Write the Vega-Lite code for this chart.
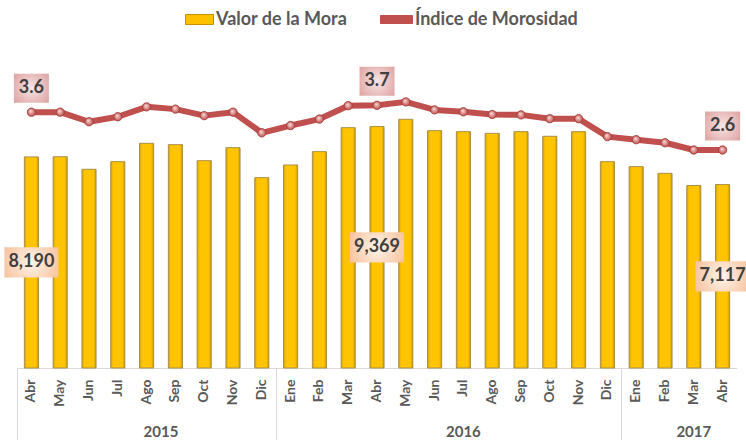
{
  "$schema": "https://vega.github.io/schema/vega-lite/v6.json",
  "width": 720,
  "height": 308,
  "autosize": {"type": "none"},
  "padding": {"left": 17, "top": 60, "right": 9, "bottom": 72},
  "background": "white",
  "config": {"view": {"stroke": null}, "font": "Lato"},
  "data": {"values": [
    {"key": "Abr-2015", "mora": 8190, "indice": 3.56},
    {"key": "May-2015", "mora": 8195, "indice": 3.56},
    {"key": "Jun-2015", "mora": 7710, "indice": 3.31},
    {"key": "Jul-2015", "mora": 8005, "indice": 3.44},
    {"key": "Ago-2015", "mora": 8718, "indice": 3.70},
    {"key": "Sep-2015", "mora": 8665, "indice": 3.64},
    {"key": "Oct-2015", "mora": 8044, "indice": 3.47},
    {"key": "Nov-2015", "mora": 8549, "indice": 3.56},
    {"key": "Dic-2015", "mora": 7385, "indice": 3.02},
    {"key": "Ene-2016", "mora": 7877, "indice": 3.21},
    {"key": "Feb-2016", "mora": 8394, "indice": 3.38},
    {"key": "Mar-2016", "mora": 9325, "indice": 3.73},
    {"key": "Abr-2016", "mora": 9369, "indice": 3.74},
    {"key": "May-2016", "mora": 9650, "indice": 3.83},
    {"key": "Jun-2016", "mora": 9208, "indice": 3.62},
    {"key": "Jul-2016", "mora": 9170, "indice": 3.57},
    {"key": "Ago-2016", "mora": 9105, "indice": 3.50},
    {"key": "Sep-2016", "mora": 9170, "indice": 3.49},
    {"key": "Oct-2016", "mora": 8990, "indice": 3.39},
    {"key": "Nov-2016", "mora": 9170, "indice": 3.39},
    {"key": "Dic-2016", "mora": 8005, "indice": 2.92},
    {"key": "Ene-2017", "mora": 7812, "indice": 2.84},
    {"key": "Feb-2017", "mora": 7553, "indice": 2.76},
    {"key": "Mar-2017", "mora": 7080, "indice": 2.57},
    {"key": "Abr-2017", "mora": 7117, "indice": 2.57}
  ]},
  "resolve": {"scale": {"y": "independent"}, "axis": {"x": "independent"}},
  "layer": [
    {
      "transform": [{"filter": "datum.mora < 0"}],
      "mark": {"type": "bar"},
      "encoding": {
        "x": {"field": "key", "type": "nominal", "sort": null, "axis": null},
        "y": {"field": "mora", "type": "quantitative", "scale": {"domain": [0, 11950], "nice": false}, "axis": null},
        "fill": {
          "datum": "Valor de la Mora",
          "scale": {"range": ["#FFC000"]},
          "legend": {
            "orient": "none", "legendX": 168, "legendY": -55, "title": null,
            "symbolType": "M-1,-0.36 h2 v0.72 h-2 Z", "symbolSize": 784,
            "symbolStrokeColor": "#BF9000", "symbolStrokeWidth": 1,
            "labelFont": "Lato", "labelFontSize": 18, "labelFontWeight": "bold",
            "labelColor": "#595959", "labelOffset": 2, "labelLimit": 400
          }
        }
      }
    },
    {
      "mark": {
        "type": "bar",
        "width": {"band": 0.49},
        "stroke": "#A89048",
        "strokeWidth": 1,
        "fill": {
          "gradient": "linear", "x1": 0, "y1": 0, "x2": 1, "y2": 0,
          "stops": [
            {"offset": 0, "color": "#D4A200"},
            {"offset": 0.18, "color": "#FFC400"},
            {"offset": 0.82, "color": "#FFC400"},
            {"offset": 1, "color": "#C89800"}
          ]
        }
      },
      "encoding": {
        "x": {
          "field": "key", "type": "nominal", "sort": null,
          "scale": {"paddingInner": 0, "paddingOuter": 0},
          "axis": {
            "orient": "bottom", "title": null,
            "labelExpr": "split(datum.value, '-')[0]",
            "labelAngle": -90, "labelPadding": 11,
            "labelFont": "Lato", "labelFontSize": 14, "labelFontWeight": "bold",
            "labelColor": "#595959",
            "ticks": false, "grid": false,
            "domainColor": "#D9D9D9", "domainWidth": 1
          }
        },
        "y": {"field": "mora", "type": "quantitative", "scale": {"domain": [0, 11950], "nice": false}, "axis": null}
      }
    },
    {
      "transform": [{"filter": "indexof(['Abr-2015','Abr-2016','Abr-2017'], datum.key) >= 0"}],
      "mark": {
        "type": "point", "filled": true, "opacity": 1,
        "shape": "M-1,-0.56 h2 v1.12 h-2 Z", "size": 2916,
        "fill": {
          "gradient": "radial", "x1": 0.5, "y1": 0.5, "r1": 0, "x2": 0.5, "y2": 0.5, "r2": 0.75,
          "stops": [
            {"offset": 0, "color": "#FFF4EA"},
            {"offset": 1, "color": "#F4B183"}
          ]
        }
      },
      "encoding": {
        "x": {"field": "key", "type": "nominal", "sort": null, "axis": null},
        "y": {"field": "mora", "type": "quantitative", "scale": {"domain": [0, 23900], "nice": false}, "axis": null}
      }
    },
    {
      "transform": [{"filter": "indexof(['Abr-2015','Abr-2016','Abr-2017'], datum.key) >= 0"}],
      "mark": {
        "type": "text", "font": "Lato", "fontSize": 18, "fontWeight": "bold",
        "color": "#404040", "baseline": "middle", "align": "center"
      },
      "encoding": {
        "x": {"field": "key", "type": "nominal", "sort": null, "axis": null},
        "y": {"field": "mora", "type": "quantitative", "scale": {"domain": [0, 23900], "nice": false}, "axis": null},
        "text": {"field": "mora", "type": "quantitative", "format": ","}
      }
    },
    {
      "transform": [{"filter": "datum.mora < 0"}],
      "mark": {"type": "line"},
      "encoding": {
        "x": {"field": "key", "type": "nominal", "sort": null, "axis": null},
        "y": {"field": "indice", "type": "quantitative", "scale": {"domain": [-3.137, 4.926], "nice": false, "zero": false}, "axis": null},
        "stroke": {
          "datum": "Índice de Morosidad",
          "scale": {"range": ["#C0504D"]},
          "legend": {
            "orient": "none", "legendX": 363, "legendY": -57, "title": null,
            "symbolType": "M-1,-0.25 h2 v0.5 h-2 Z", "symbolSize": 1024,
            "symbolFillColor": "#C0504D", "symbolStrokeColor": "#C0504D", "symbolStrokeWidth": 1,
            "labelFont": "Lato", "labelFontSize": 18, "labelFontWeight": "bold",
            "labelColor": "#595959", "labelOffset": 2, "labelLimit": 400
          }
        }
      }
    },
    {
      "mark": {
        "type": "line", "color": "#C0504D", "strokeWidth": 6,
        "strokeCap": "round", "strokeJoin": "round"
      },
      "encoding": {
        "x": {
          "field": "key", "type": "nominal", "sort": null,
          "axis": {
            "orient": "bottom", "title": null, "domain": false, "grid": false,
            "bandPosition": 0,
            "labelExpr": "datum.value == 'Ago-2015' ? '2015' : datum.value == 'Jul-2016' ? '2016' : datum.value == 'Mar-2017' ? '2017' : ''",
            "labelAngle": 0, "labelAlign": "center", "labelBaseline": "top",
            "labelOffset": {"condition": {"test": "datum.value == 'Ago-2015'", "value": 14.4}, "value": 0},
            "labelPadding": -16, "labelOverlap": false, "labelBound": false,
            "labelFont": "Lato", "labelFontSize": 15, "labelFontWeight": "bold",
            "labelColor": "#595959",
            "tickSize": 72, "tickColor": "#D9D9D9", "tickWidth": 1,
            "tickOpacity": {"condition": {"test": "indexof(['Abr-2015','Ene-2016','Ene-2017'], datum.value) >= 0", "value": 1}, "value": 0}
          }
        },
        "y": {"field": "indice", "type": "quantitative", "scale": {"domain": [-3.137, 4.926], "nice": false, "zero": false}, "axis": null}
      }
    },
    {
      "mark": {
        "type": "point", "filled": true, "opacity": 1, "size": 70,
        "stroke": "#9E3B38", "strokeWidth": 0.8,
        "fill": {
          "gradient": "radial", "x1": 0.4, "y1": 0.35, "r1": 0, "x2": 0.5, "y2": 0.5, "r2": 0.5,
          "stops": [
            {"offset": 0, "color": "#FBE3E2"},
            {"offset": 1, "color": "#C0504D"}
          ]
        }
      },
      "encoding": {
        "x": {"field": "key", "type": "nominal", "sort": null, "axis": null},
        "y": {"field": "indice", "type": "quantitative", "scale": {"domain": [-3.137, 4.926], "nice": false, "zero": false}, "axis": null}
      }
    },
    {
      "transform": [{"filter": "indexof(['Abr-2015','Abr-2016','Abr-2017'], datum.key) >= 0"}],
      "mark": {
        "type": "point", "filled": true, "opacity": 1, "yOffset": -24,
        "shape": "M-1,-0.83 h2 v1.66 h-2 Z", "size": 1225,
        "fill": {
          "gradient": "radial", "x1": 0.5, "y1": 0.5, "r1": 0, "x2": 0.5, "y2": 0.5, "r2": 0.75,
          "stops": [
            {"offset": 0, "color": "#F7E6E6"},
            {"offset": 1, "color": "#D99694"}
          ]
        }
      },
      "encoding": {
        "x": {"field": "key", "type": "nominal", "sort": null, "axis": null},
        "y": {"field": "indice", "type": "quantitative", "scale": {"domain": [-3.137, 4.926], "nice": false, "zero": false}, "axis": null}
      }
    },
    {
      "transform": [{"filter": "indexof(['Abr-2015','Abr-2016','Abr-2017'], datum.key) >= 0"}],
      "mark": {
        "type": "text", "font": "Lato", "fontSize": 18, "fontWeight": "bold",
        "color": "#404040", "baseline": "middle", "align": "center", "yOffset": -24
      },
      "encoding": {
        "x": {"field": "key", "type": "nominal", "sort": null, "axis": null},
        "y": {"field": "indice", "type": "quantitative", "scale": {"domain": [-3.137, 4.926], "nice": false, "zero": false}, "axis": null},
        "text": {"field": "indice", "type": "quantitative", "format": ".1f"}
      }
    }
  ]
}
